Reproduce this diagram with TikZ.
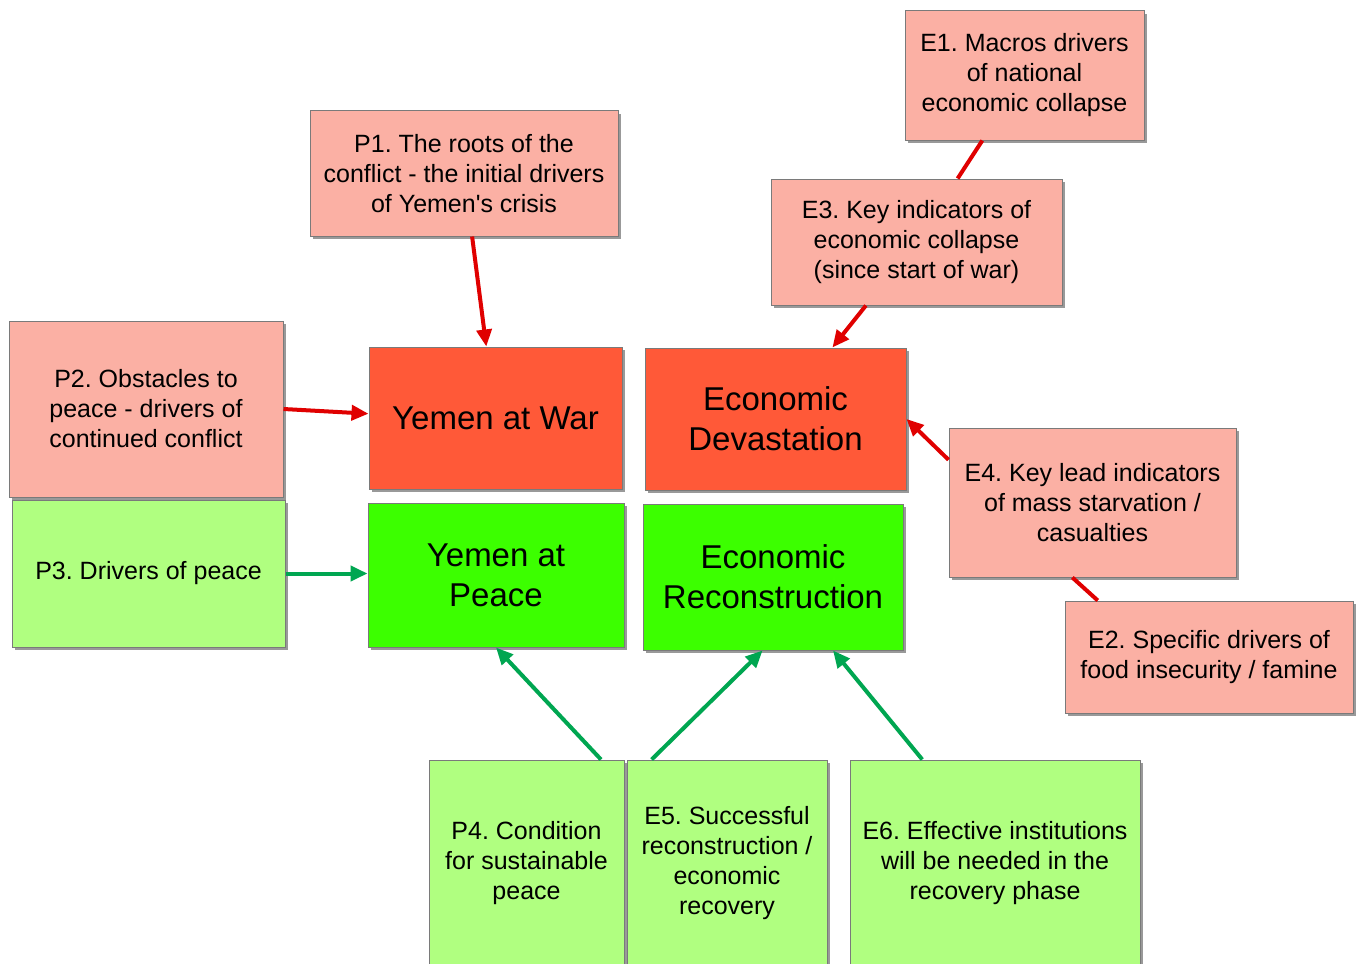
\documentclass[tikz,border=0pt]{standalone}
\usepackage{fontspec}
\setmainfont{Liberation Sans}
\usetikzlibrary{arrows.meta,shadows,calc}
\frenchspacing
\definecolor{pinkbox}{HTML}{FBB0A4}
\definecolor{redbox}{HTML}{FF5938}
\definecolor{lgreen}{HTML}{B0FF80}
\definecolor{bgreen}{HTML}{3CFF00}
\definecolor{redline}{HTML}{E00000}
\definecolor{greenline}{HTML}{00A651}
\definecolor{bordergray}{HTML}{7A7A7A}
\tikzset{
  box/.style={draw=bordergray, line width=1pt, inner sep=0pt, align=center,
    drop shadow={shadow xshift=3pt, shadow yshift=-3pt, fill=black!40, opacity=1},
    font=\fontsize{25}{30}\selectfont},
  smallpink/.style={box, fill=pinkbox},
  smallgreen/.style={box, fill=lgreen},
  bigred/.style={box, fill=redbox, font=\fontsize{33}{40}\selectfont},
  biggreen/.style={box, fill=bgreen, font=\fontsize{33}{40}\selectfont},
  redarrow/.style={draw=redline, line width=4pt, -{Triangle[length=17pt,width=15pt]}},
  redlink/.style={draw=redline, line width=4pt},
  greenarrow/.style={draw=greenline, line width=4pt, -{Triangle[length=17pt,width=15pt]}}
}
\begin{document}
\begin{tikzpicture}[x=1pt,y=-1pt]
\useasboundingbox[fill=white] (0,0) rectangle (1356,963);
\node[smallpink, minimum width=308pt, minimum height=125pt] (P1) at (464,173.5) {P1. The roots of the\\conflict - the initial drivers\\of Yemen\textquotesingle s crisis};
\node[smallpink, minimum width=239pt, minimum height=129pt] (E1) at (1024.5,75.5) {E1. Macros drivers\\of national\\economic collapse};
\node[smallpink, minimum width=291pt, minimum height=126pt] (E3) at (916.5,242) {E3. Key indicators of\\economic collapse\\(since start of war)};
\node[bigred, minimum width=253pt, minimum height=142pt] (war) at (495.5,418) {Yemen at War};
\node[bigred, minimum width=261pt, minimum height=142pt] (dev) at (775.5,419) {Economic\\Devastation};
\node[smallpink, minimum width=274pt, minimum height=176pt] (P2) at (146,409) {P2. Obstacles to\\peace - drivers of\\continued conflict};
\node[smallpink, minimum width=287pt, minimum height=149pt] (E4) at (1092.5,502.5) {E4. Key lead indicators\\of mass starvation /\\casualties};
\node[smallgreen, minimum width=273pt, minimum height=147pt] (P3) at (148.5,573.5) {P3. Drivers of peace};
\node[biggreen, minimum width=256pt, minimum height=144pt] (peace) at (496,575) {Yemen at\\Peace};
\node[biggreen, minimum width=260pt, minimum height=146pt] (recon) at (773,577) {Economic\\Reconstruction};
\node[smallpink, minimum width=288pt, minimum height=112pt] (E2) at (1209,657) {E2. Specific drivers of\\food insecurity / famine};
\node[smallgreen, minimum width=195pt, minimum height=206pt] (P4) at (526.5,863) {P4. Condition\\for sustainable\\peace};
\node[smallgreen, minimum width=200pt, minimum height=206pt] (E5) at (727,863) {E5. Successful\\reconstruction /\\economic\\recovery};
\node[smallgreen, minimum width=290pt, minimum height=206pt] (E6) at (995,863) {E6. Effective institutions\\will be needed in the\\recovery phase};

\draw[redarrow] (P1) -- (war);
\draw[redlink] (E1) -- (E3);
\draw[redarrow] (E3) -- (dev);
\draw[redarrow] ($(E4.north west)!0.215!(E4.south west)$) -- (dev.east);
\draw[redlink] ($(E2.north west)!0.115!(E2.north east)$) -- ($(E4.south west)!0.43!(E4.south east)$);
\draw[redarrow] (P2.east) -- ($(war.north west)!0.47!(war.south west)$);
\draw[greenarrow] (P3.east) -- (P3.east -| peace.west);
\draw[greenarrow] ($(P4.north west)!0.88!(P4.north east)$) -- (peace.south);
\draw[greenarrow] ($(E5.north west)!0.125!(E5.north east)$) -- ($(recon.south west)!0.46!(recon.south east)$);
\draw[greenarrow] ($(E6.north west)!0.25!(E6.north east)$) -- ($(recon.south west)!0.73!(recon.south east)$);
\end{tikzpicture}
\end{document}
